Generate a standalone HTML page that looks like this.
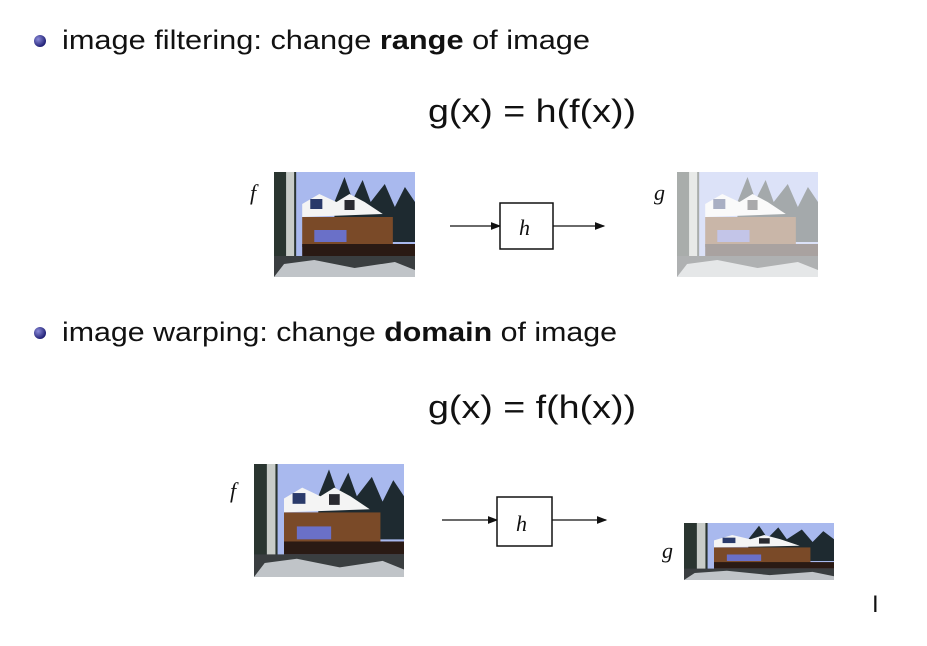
<!DOCTYPE html>
<html><head><meta charset="utf-8"><style>
html,body{margin:0;padding:0;background:#fff;width:927px;height:646px;overflow:hidden}
svg{display:block}
text{font-family:"Liberation Sans",sans-serif;fill:#111}
.m{font-family:"Liberation Serif",serif;font-style:italic}
</style></head><body>
<svg width="927" height="646" viewBox="0 0 927 646">
<defs>
<radialGradient id="bul" cx="0.35" cy="0.35" r="0.7"><stop offset="0" stop-color="#8a8ad8"/><stop offset="1" stop-color="#1a1a70"/></radialGradient>
<marker id="ah" markerWidth="8" markerHeight="6" refX="7" refY="3" orient="auto"><path d="M0,0 L8,3 L0,6 z" fill="#111"/></marker>
<g id="house">
<rect x="0" y="0" width="140" height="105" fill="#a9b9ee"/>
<path d="M60,30 L70,5 L78,28 L88,8 L96,30 L110,12 L120,35 L130,15 L140,30 L140,70 L60,70z" fill="#1e2a30"/>
<rect x="0" y="0" width="22" height="105" fill="#2a3530"/>
<rect x="12" y="0" width="8" height="95" fill="#c8ccc8"/>
<path d="M28,32 L45,22 L62,30 L75,22 L90,30 L108,42 L28,45z" fill="#f4f4f4"/>
<rect x="36" y="27" width="12" height="10" fill="#2a3a6a"/>
<rect x="70" y="28" width="10" height="10" fill="#2a2a30"/>
<rect x="28" y="45" width="90" height="30" fill="#7a4a28"/>
<rect x="40" y="58" width="32" height="12" fill="#6a70c8"/>
<rect x="28" y="72" width="112" height="12" fill="#2a1a14"/>
<rect x="0" y="84" width="140" height="21" fill="#3a3e40"/>
<path d="M10,92 L40,88 L80,96 L120,90 L140,98 L140,105 L0,105z" fill="#c0c4c8"/>
</g>
</defs>

<circle cx="40" cy="41" r="6" fill="url(#bul)"/>
<text x="62" y="49" font-size="27" textLength="528" lengthAdjust="spacingAndGlyphs">image filtering: change <tspan font-weight="bold">range</tspan> of image</text>
<text x="428" y="122" font-size="32" textLength="208" lengthAdjust="spacingAndGlyphs">g(x) = h(f(x))</text>

<text x="250" y="200" class="m" font-size="22">f</text>
<svg x="274" y="172" width="141" height="105" viewBox="0 0 140 105" preserveAspectRatio="none"><use href="#house"/></svg>
<line x1="450" y1="226" x2="500" y2="226" stroke="#111" stroke-width="1.3" marker-end="url(#ah)"/>
<rect x="500" y="203" width="53" height="46" fill="#fff" stroke="#111" stroke-width="1.5"/>
<text x="519" y="235" class="m" font-size="22">h</text>
<line x1="553" y1="226" x2="604" y2="226" stroke="#111" stroke-width="1.3" marker-end="url(#ah)"/>
<text x="654" y="200" class="m" font-size="22">g</text>
<svg x="677" y="172" width="141" height="105" viewBox="0 0 140 105" preserveAspectRatio="none" opacity="0.4"><use href="#house"/></svg>

<circle cx="40" cy="333" r="6" fill="url(#bul)"/>
<text x="62" y="341" font-size="27" textLength="555" lengthAdjust="spacingAndGlyphs">image warping: change <tspan font-weight="bold">domain</tspan> of image</text>
<text x="428" y="418" font-size="32" textLength="208" lengthAdjust="spacingAndGlyphs">g(x) = f(h(x))</text>

<text x="230" y="498" class="m" font-size="22">f</text>
<svg x="254" y="464" width="150" height="113" viewBox="0 0 140 105" preserveAspectRatio="none"><use href="#house"/></svg>
<line x1="442" y1="520" x2="497" y2="520" stroke="#111" stroke-width="1.3" marker-end="url(#ah)"/>
<rect x="497" y="497" width="55" height="49" fill="#fff" stroke="#111" stroke-width="1.5"/>
<text x="516" y="531" class="m" font-size="22">h</text>
<line x1="552" y1="520" x2="606" y2="520" stroke="#111" stroke-width="1.3" marker-end="url(#ah)"/>
<text x="662" y="558" class="m" font-size="22">g</text>
<svg x="684" y="523" width="150" height="57" viewBox="0 0 140 105" preserveAspectRatio="none"><use href="#house"/></svg>

<text x="872" y="612" font-size="24">I</text>
</svg>
</body></html>
